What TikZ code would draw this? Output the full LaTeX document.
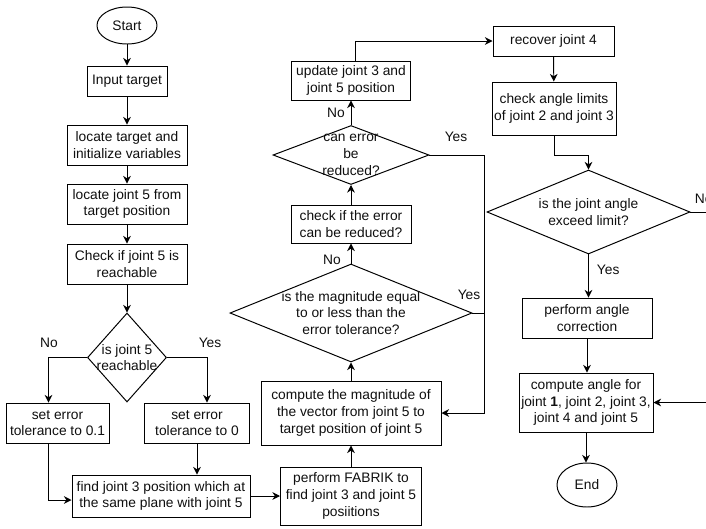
\documentclass[tikz,border=0pt]{standalone}
\usepackage{fontspec}
\setmainfont{Liberation Sans}
\usetikzlibrary{shapes,arrows.meta,positioning,calc}
\definecolor{flowline}{RGB}{0,0,0}
\definecolor{flowtext}{RGB}{15,15,15}

\begin{document}
\begin{tikzpicture}[
    x=0.025cm, y=-0.025cm,
    every node/.style={font=\fontsize{9.8pt}{11.9pt}\selectfont,text=flowtext},
    sz/.style 2 args={minimum width=#1*0.025cm,minimum height=#2*0.025cm},
    process/.style={draw=flowline,line width=0.7pt,rectangle,align=center,inner sep=1pt},
    decision/.style={draw=flowline,line width=0.7pt,diamond,inner sep=0pt},
    terminal/.style={draw=flowline,line width=0.7pt,ellipse,inner sep=0pt},
    arr/.style={draw=flowline,line width=0.7pt,-{Stealth[length=1.9mm,width=1.9mm]}},
    link/.style={draw=flowline,line width=0.7pt}
]
\useasboundingbox (0,0) rectangle (706,528);
\clip (0,0) rectangle (706,528);

% Left column
\node[terminal,sz={60}{37}] (start) at (127,25.5) {Start};
\node[process,sz={80}{30}] (input) at (127,81) {Input target};
\node[process,sz={120}{40}] (locate) at (127,145) {locate target and\\initialize variables};
\node[process,sz={120}{40}] (locj5) at (127,204) {locate joint 5 from\\target position};
\node[process,sz={120}{40}] (check5) at (127,264) {Check if joint 5 is\\reachable};
\node[decision,sz={79}{89}] (reach) at (127,357.5) {};
\node[align=center] (reach-t) at (reach) {is joint 5\\reachable};
\node[process,sz={103}{40}] (set01) at (57.5,423) {set error\\tolerance to 0.1};
\node[process,sz={105}{40}] (set0) at (197,423) {set error\\tolerance to 0};
\node[process,sz={178}{42}] (find3) at (161,496) {find joint 3 position which at\\the same plane with joint 5};

% Middle column
\node[process,sz={141}{58}] (fabrik) at (351,496) {perform FABRIK to\\find joint 3 and joint 5\\posiitions};
\node[process,sz={180}{64}] (magn) at (351,413) {compute the magnitude of\\the vector from joint 5 to\\target position of joint 5};
\node[decision,sz={242}{98}] (tol) at (351,313) {};
\node[align=center] (tol-t) at (tol) {is the magnitude equal\\to or less than the\\error tolerance?};
\node[process,sz={120}{38}] (chkerr) at (351,224) {check if the error\\can be reduced?};
\node[decision,sz={156}{59}] (reduce) at (351,155) {};
\node[align=center] (reduce-t) at (reduce) {can error\\be\\reduced?};
\node[process,sz={119}{39}] (update) at (351,80.5) {update joint 3 and\\joint 5 position};

% Right column
\node[process,sz={121}{30}] (recover) at (553.5,41) {recover joint 4};
\node[process,sz={124}{53}] (chkang) at (554,108.5) {check angle limits\\of joint 2 and joint 3};
\node[decision,sz={203}{84}] (limit) at (588.5,212) {};
\node[align=center] (limit-t) at (limit) {is the joint angle\\exceed limit?};
\node[process,sz={130}{40}] (correct) at (587,318) {perform angle\\correction};
\node[process,sz={134}{59}] (angles) at (586,402.5) {compute angle for\\joint \textbf{1}, joint 2, joint 3,\\joint 4 and joint 5};
\node[terminal,sz={60}{44}] (finish) at (587,485) {End};

% Branch labels
\node (no1) at (49,343) {No};
\node (yes1) at (210,343) {Yes};
\node (no2) at (332,260) {No};
\node (yes2) at (469,295) {Yes};
\node (no3) at (336,113) {No};
\node (yes3) at (456,137) {Yes};
\node[anchor=west] (no4) at (690,199) {No};
\node[anchor=west] (yes4) at (592,270) {Yes};

% Connections
\draw[arr] (start) -- (input);
\draw[arr] (input) -- (locate);
\draw[arr] (locate) -- (locj5);
\draw[arr] (locj5) -- (check5);
\draw[arr] (check5) -- (reach);
\draw[arr] (reach.west) -| ([xshift=-0.225cm]set01.north);
\draw[arr] (reach.east) -| ([xshift=0.25cm]set0.north);
\draw[arr] ([xshift=-0.225cm]set01.south) |- ([yshift=-0.1cm]find3.west);
\draw[arr] (set0.south) -- (set0.south |- find3.north);
\draw[arr] (find3.east) -- (fabrik.west);
\draw[arr] (fabrik) -- (magn);
\draw[arr] (magn) -- (tol);
\draw[arr] (tol) -- (chkerr);
\draw[arr] (chkerr) -- (reduce);
\draw[arr] (reduce) -- (update);
\draw[arr] ([xshift=0.1cm]update.north) |- (recover.west);
\coordinate (merge) at (484,155);
\draw[arr] (reduce.east) -- (merge) |- (magn.east);
\draw[link] (tol.east) -- (tol.east -| merge);
\draw[arr] (recover) -- (chkang);
\draw[arr] (chkang.south) -- ++(0,20) -| (limit.north);
\draw[arr] (limit.south) -- (limit.south |- correct.north);
\draw[arr] (correct.south) -- (correct.south |- angles.north);
\draw[arr] (angles.south) -- (angles.south |- finish.north);
\coordinate (offpage) at (730,212);
\draw[arr] (limit.east) -- (offpage) |- (angles.east);

\end{tikzpicture}
\end{document}
